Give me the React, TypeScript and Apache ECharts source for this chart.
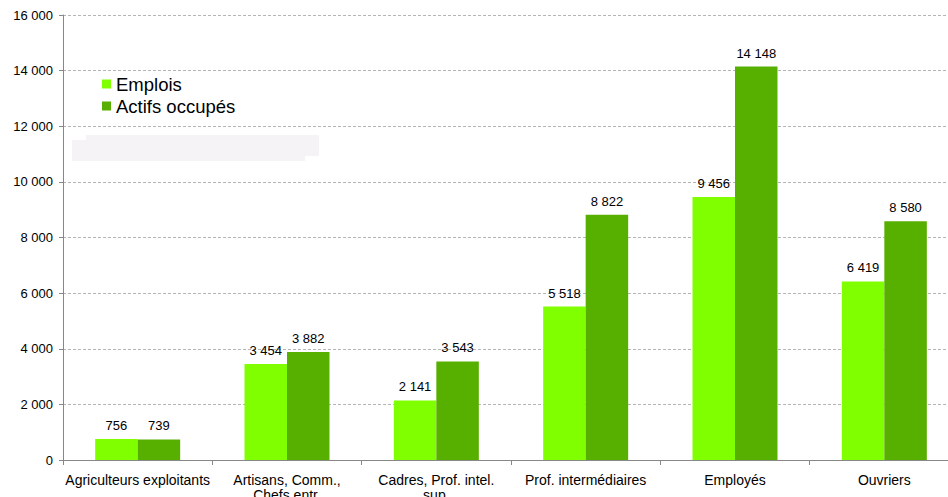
import React, { useEffect, useRef } from "react";
import * as echarts from "echarts";

const categories = [
  "Agriculteurs exploitants",
  "Artisans, Comm.,\nChefs entr.",
  "Cadres, Prof. intel.\nsup.",
  "Prof. intermédiaires",
  "Employés",
  "Ouvriers",
];
const emplois = [756, 3454, 2141, 5518, 9456, 6419];
const actifs = [739, 3882, 3543, 8822, 14148, 8580];
const yTicks = { min: 0, max: 16000, interval: 2000 };

const fmt = (v: number) => {
  const s = String(Math.round(v));
  return s.replace(/\B(?=(\d{3})+(?!\d))/g, " ");
};

const FONT = "Arial, 'Liberation Sans', sans-serif";

export default function App() {
  const ref = useRef<HTMLDivElement>(null);
  useEffect(() => {
    if (!ref.current) return;
    const chart = echarts.init(ref.current, undefined, { renderer: "svg" });
    const labelCfg = {
      show: true,
      position: "top" as const,
      distance: 7,
      color: "#000",
      fontSize: 13,
      fontFamily: FONT,
      formatter: (p: any) => fmt(p.value),
    };
    chart.setOption({
      animation: false,
      backgroundColor: "#fff",
      textStyle: { fontFamily: FONT },
      grid: {
        left: 63,
        top: 15,
        width: 896,
        height: 445,
        containLabel: false,
        outerBoundsMode: "none",
      },
      legend: {
        orient: "vertical",
        left: 102,
        top: 73,
        padding: 0,
        itemWidth: 9,
        itemHeight: 9,
        itemGap: 0,
        icon: "rect",
        textStyle: { fontSize: 18.5, lineHeight: 22, color: "#000", fontFamily: FONT },
        data: ["Emplois", "Actifs occupés"],
      },
      graphic: [
        { type: "rect", shape: { x: 86, y: 135, width: 233, height: 21 }, style: { fill: "#F5F3F6" }, silent: true },
        { type: "rect", shape: { x: 72, y: 140, width: 233, height: 21 }, style: { fill: "#F5F3F6" }, silent: true },
      ],
      xAxis: {
        type: "category",
        data: categories,
        axisLine: { show: true, lineStyle: { color: "#888", width: 1 } },
        axisTick: { show: true, length: 5, lineStyle: { color: "#888" } },
        axisLabel: {
          color: "#000",
          fontSize: 14,
          fontFamily: FONT,
          margin: 12,
          lineHeight: 15,
          interval: 0,
        },
      },
      yAxis: {
        type: "value",
        min: yTicks.min,
        max: yTicks.max,
        interval: yTicks.interval,
        axisLine: { show: true, lineStyle: { color: "#888", width: 1 } },
        axisTick: { show: true, length: 4, lineStyle: { color: "#888" } },
        axisLabel: {
          color: "#000",
          fontSize: 13,
          fontFamily: FONT,
          margin: 10,
          formatter: (v: number) => fmt(v),
        },
        splitLine: { show: true, lineStyle: { color: "#B5B5B5", type: [3, 2], width: 1 } },
      },
      series: [
        {
          name: "Emplois",
          type: "bar",
          data: emplois,
          barWidth: 42.5,
          barGap: "0%",
          itemStyle: { color: "#80FF00" },
          label: labelCfg,
        },
        {
          name: "Actifs occupés",
          type: "bar",
          data: actifs,
          barWidth: 42.5,
          barGap: "0%",
          itemStyle: { color: "#57AF00" },
          label: labelCfg,
        },
      ],
    });
    return () => chart.dispose();
  }, []);
  return (
    <div style={{ position: "fixed", left: 0, top: 0, width: 948, height: 497, overflow: "hidden" }}>
      <div ref={ref} style={{ width: 948, height: 497 }} />
    </div>
  );
}
